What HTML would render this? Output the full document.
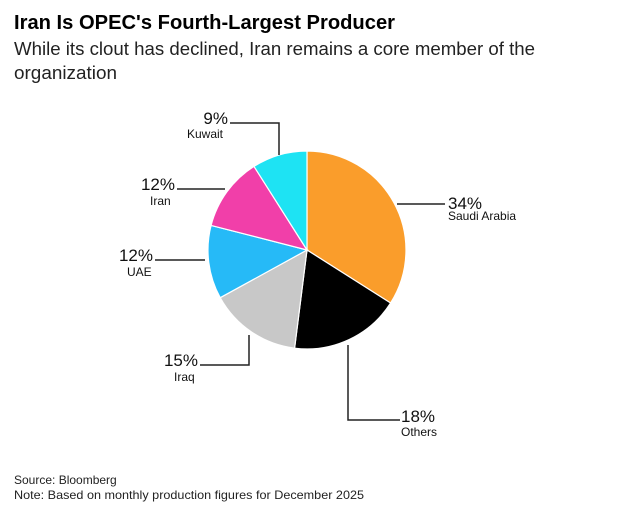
<!DOCTYPE html>
<html><head><meta charset="utf-8"><style>
html,body{margin:0;padding:0;background:#fff;}
svg{display:block;font-family:"Liberation Sans",Arial,sans-serif;}
</style></head><body>
<svg width="634" height="513" viewBox="0 0 634 513" xmlns="http://www.w3.org/2000/svg">
<rect width="634" height="513" fill="#fff"/>
<text x="14" y="29" font-size="20" font-weight="bold" fill="#000" textLength="381" lengthAdjust="spacingAndGlyphs">Iran Is OPEC's Fourth-Largest Producer</text>
<text x="14" y="55" font-size="18" fill="#222" textLength="521" lengthAdjust="spacingAndGlyphs">While its clout has declined, Iran remains a core member of the</text>
<text x="14" y="79" font-size="18" fill="#222" textLength="103" lengthAdjust="spacingAndGlyphs">organization</text>

<g stroke="#fff" stroke-width="1.2">
<path d="M307,250 L307,151 A99,99 0 0 1 390.6,303 Z" fill="#fa9d2b"/>
<path d="M307,250 L390.6,303 A99,99 0 0 1 294.6,348.2 Z" fill="#000"/>
<path d="M307,250 L294.6,348.2 A99,99 0 0 1 220.2,297.7 Z" fill="#c8c8c8"/>
<path d="M307,250 L220.2,297.7 A99,99 0 0 1 211.1,225.4 Z" fill="#26baf7"/>
<path d="M307,250 L211.1,225.4 A99,99 0 0 1 254,166.4 Z" fill="#f13fa9"/>
<path d="M307,250 L254,166.4 A99,99 0 0 1 307,151 Z" fill="#1ee3f3"/>
</g>

<g stroke="#222" stroke-width="1.5" fill="none">
<polyline points="397,204 445,204"/>
<polyline points="348,345 348,420 400,420"/>
<polyline points="249,335 249,365 200,365"/>
<polyline points="205,260 155,260"/>
<polyline points="225,189 177,189"/>
<polyline points="279,155 279,123 230,123"/>
</g>

<g fill="#111">
<text x="448" y="209" font-size="17">34%</text>
<text x="448" y="220" font-size="12" dy="0">Saudi Arabia</text>
<text x="401" y="422" font-size="17">18%</text>
<text x="401" y="436" font-size="12">Others</text>
<text x="198" y="366" font-size="17" text-anchor="end">15%</text>
<text x="174" y="381" font-size="12">Iraq</text>
<text x="153" y="261" font-size="17" text-anchor="end">12%</text>
<text x="127" y="276" font-size="12">UAE</text>
<text x="175" y="190" font-size="17" text-anchor="end">12%</text>
<text x="150" y="205" font-size="12">Iran</text>
<text x="228" y="124" font-size="17" text-anchor="end">9%</text>
<text x="187" y="138" font-size="12">Kuwait</text>
</g>

<text x="14" y="484" font-size="12" fill="#222">Source: Bloomberg</text>
<text x="14" y="499" font-size="12" fill="#222" textLength="350" lengthAdjust="spacingAndGlyphs">Note: Based on monthly production figures for December 2025</text>
</svg>
</body></html>
